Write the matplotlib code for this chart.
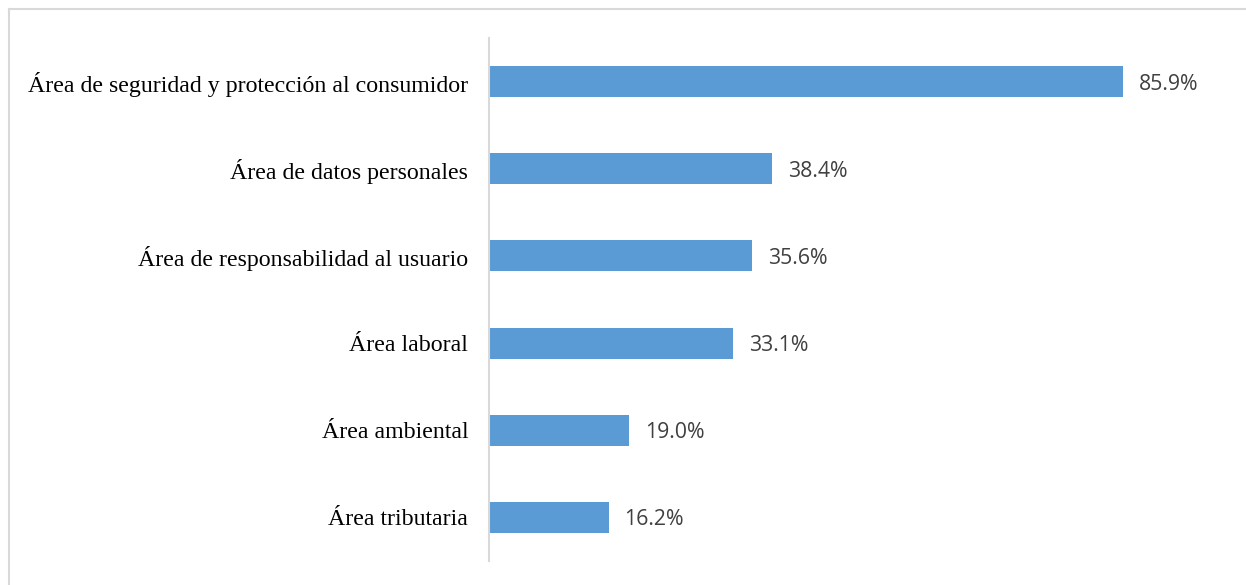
import matplotlib
matplotlib.use("Agg")
import matplotlib.pyplot as plt
from matplotlib.lines import Line2D

categories = [
    "Área de seguridad y protección al consumidor",
    "Área de datos personales",
    "Área de responsabilidad al usuario",
    "Área laboral",
    "Área ambiental",
    "Área tributaria",
]
values = [85.9, 38.4, 35.6, 33.1, 19.0, 16.2]
value_labels = ["85.9%", "38.4%", "35.6%", "33.1%", "19.0%", "16.2%"]

W, H = 1246, 585
fig = plt.figure(figsize=(W / 100, H / 100), dpi=100)

left, right, top, bottom = 489, 1227, 38, 561
ax = fig.add_axes([left / W, 1 - bottom / H, (right - left) / W, (bottom - top) / H])

y = list(range(len(categories)))
ax.barh(y, values, height=0.356, color="#5B9BD5", zorder=2)
ax.set_xlim(0, 100)
ax.set_ylim(len(categories) - 0.5, -0.5)

for yi, v, lab in zip(y, values, value_labels):
    ax.annotate(lab, (v, yi), xytext=(11.5, 0), textcoords="offset points",
                va="center_baseline", ha="left", fontsize=15.3, color="#404040",
                family=["Open Sans", "DejaVu Sans"])

ax.set_yticks(y)
ax.set_yticklabels(categories, fontsize=17.2, family=["Liberation Serif", "DejaVu Serif"],
                   color="black")
ax.tick_params(axis="y", length=0, pad=15)
ax.set_xticks([])
for s in ["top", "right", "bottom"]:
    ax.spines[s].set_visible(False)
ax.spines["left"].set_color("#d9d9d9")
ax.spines["left"].set_linewidth(1.5)

# light frame on the left and top edges
fig.add_artist(Line2D([8.5 / W, 8.5 / W], [0, 1 - 8.5 / H], transform=fig.transFigure,
                      color="#d9d9d9", lw=1.5))
fig.add_artist(Line2D([8.5 / W, 1], [1 - 8.5 / H, 1 - 8.5 / H], transform=fig.transFigure,
                      color="#d9d9d9", lw=1.5))

fig.savefig("out.png", dpi=100)
